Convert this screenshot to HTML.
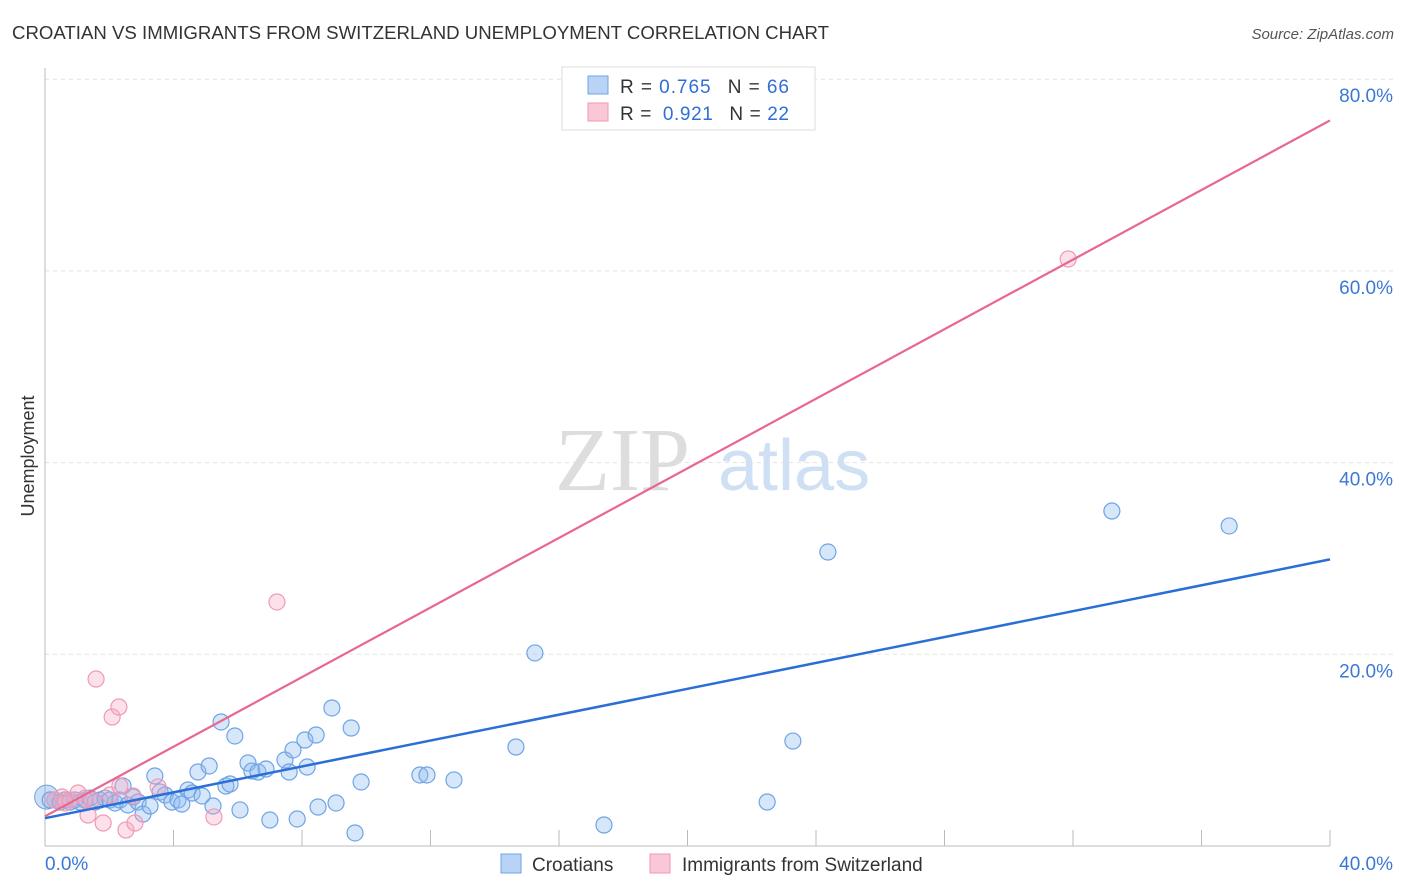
<!DOCTYPE html>
<html><head><meta charset="utf-8"><style>
body{margin:0;background:#fff;font-family:"Liberation Sans",sans-serif;}
#wrap{position:relative;width:1406px;height:892px;overflow:hidden}
</style></head><body>
<div id="wrap">
<svg id="svg" width="1406" height="892">
<text x="12" y="39" font-size="18" fill="#333" textLength="817" lengthAdjust="spacingAndGlyphs">CROATIAN VS IMMIGRANTS FROM SWITZERLAND UNEMPLOYMENT CORRELATION CHART</text>
<text x="1394" y="39" font-size="15" fill="#555" font-style="italic" text-anchor="end">Source: ZipAtlas.com</text>
<text x="34" y="456" font-size="18" fill="#333" text-anchor="middle" transform="rotate(-90 34 456)">Unemployment</text>
<g id="grid"></g>
<g><text x="555" y="490" font-size="90" fill="#ddd" font-family="Liberation Serif,serif">ZIP</text><text x="718" y="490" font-size="72" fill="#cfe0f4">atlas</text></g>
<g id="marks"></g>
<g>
<rect x="562" y="67" width="253" height="63" fill="#fff" stroke="#ddd"/>
<rect x="588" y="76" width="20" height="18" fill="#b8d3f5" stroke="#6fa3e6"/>
<rect x="588" y="103" width="20" height="18" fill="#fac7d6" stroke="#ef9ab4"/>
<text x="620" y="93" font-size="19" fill="#333" textLength="169" lengthAdjust="spacing">R = <tspan fill="#2f6fd6">0.765</tspan>  <tspan dx="10">N = </tspan><tspan fill="#2f6fd6">66</tspan></text>
<text x="620" y="120" font-size="19" fill="#333" textLength="169" lengthAdjust="spacing">R = <tspan dx="5" fill="#2f6fd6">0.921</tspan>  <tspan dx="10">N = </tspan><tspan fill="#2f6fd6">22</tspan></text>
</g>
<g>
<rect x="501" y="854" width="20" height="19" fill="#b8d3f5" stroke="#6fa3e6"/>
<text x="532" y="871" font-size="19" fill="#333">Croatians</text>
<rect x="650" y="854" width="20" height="19" fill="#fac7d6" stroke="#ef9ab4"/>
<text x="682" y="871" font-size="19" fill="#333">Immigrants from Switzerland</text>
</g>
</svg>
</div>
<script>
const yTicks=[20,40,60,80];
const xTickLabels=["0.0%","40.0%"];
const blueX=[0.16,0.31,0.47,0.62,0.78,0.93,1.09,1.25,1.40,1.56,1.71,1.87,2.02,2.18,2.33,2.43,2.58,2.74,2.90,3.05,3.27,3.42,3.58,3.74,3.95,4.14,4.26,4.45,4.58,4.76,4.89,5.11,5.23,5.48,5.63,5.76,5.91,6.07,6.32,6.44,6.63,6.88,7.00,7.47,7.60,7.72,7.85,8.09,8.16,8.44,8.50,8.93,9.06,9.53,9.65,9.84,11.67,11.89,12.73,14.66,15.25,17.40,22.48,23.28,24.37,33.21,36.86];
const blueY=[4.8,4.8,4.59,4.8,4.59,4.8,4.59,4.8,5.0,4.59,4.8,5.0,4.8,4.49,4.8,6.26,4.28,5.11,4.59,3.34,4.17,7.30,5.63,5.32,4.59,4.8,4.38,5.84,5.53,7.72,5.22,8.35,4.17,12.94,6.26,6.47,11.48,3.76,8.66,7.82,7.72,8.03,2.71,8.97,7.72,10.02,2.82,11.06,8.24,11.58,4.07,14.40,4.49,12.31,1.36,6.68,7.41,7.41,6.89,10.33,20.14,2.19,4.59,10.95,30.67,34.95,33.39];
const pinkX=[0.31,0.53,0.62,0.78,1.03,1.25,1.34,1.46,1.59,1.81,2.02,2.09,2.30,2.33,2.52,2.74,2.80,3.52,5.26,7.22,31.85];
const pinkY=[4.8,5.11,4.49,4.8,5.53,5.0,3.23,4.8,17.42,2.40,5.32,13.46,14.50,6.26,1.67,5.22,2.40,6.16,3.03,25.46,61.24];
const blueLine=[2.9,29.9];
const pinkLine=[3.1,75.7];
const X=v=>45+v/40*1285, Y=v=>846-v/20*191.7;
const NS="http://www.w3.org/2000/svg";
const grid=document.getElementById('grid'), marks=document.getElementById('marks');
function mk(tag,attrs,parent){const e=document.createElementNS(NS,tag);for(const k in attrs)e.setAttribute(k,attrs[k]);parent.appendChild(e);return e;}
yTicks.forEach(t=>{
 const l=mk('line',{x1:45,x2:1394,y1:Y(t),y2:Y(t),stroke:'#e3e3e3','stroke-dasharray':'4,4'},grid);
 
 
 const tx=mk('text',{x:1393,y:Y(t)+23,'font-size':19,fill:'#3a78d8','text-anchor':'end'},grid);
 tx.textContent=t.toFixed(1)+'%';
 
 
});
const ax=mk('line',{x1:45,x2:45,y1:68,y2:846,stroke:'#bbb'},grid);


const axx=mk('line',{x1:45,x2:1330,y1:846,y2:846,stroke:'#bbb'},grid);


for(let i=1;i<=10;i++){const t=mk('line',{x1:X(i*4),x2:X(i*4),y1:830,y2:846,stroke:'#bbb'},grid);
 
 }
xTickLabels.forEach((s,i)=>{const t=mk('text',{x:i?1393:45,y:870,'font-size':19,fill:'#3a78d8','text-anchor':i?'end':'start'},grid);t.textContent=s;
 
 });
const big1=mk('circle',{cx:X(0.05),cy:Y(5.1),r:12,fill:'rgba(110,160,225,0.35)',stroke:'#6fa3e6'},marks);


blueX.forEach((x,i)=>{const c=mk('circle',{cx:X(x),cy:Y(blueY[i]),r:8,fill:'rgba(140,185,240,0.35)',stroke:'#6fa3e6','stroke-width':1.2},marks);
 
 });
pinkX.forEach((x,i)=>{const c=mk('circle',{cx:X(x),cy:Y(pinkY[i]),r:8,fill:'rgba(245,170,195,0.35)',stroke:'#ef9ab4','stroke-width':1.2},marks);
 
 });
const bl=mk('line',{x1:X(0),y1:Y(blueLine[0]),x2:X(40),y2:Y(blueLine[1]),stroke:'#2a6fd6','stroke-width':2.5},marks);


const pl=mk('line',{x1:X(0),y1:Y(pinkLine[0]),x2:X(40),y2:Y(pinkLine[1]),stroke:'#e8668f','stroke-width':2.2},marks);


</script>
</body></html>
